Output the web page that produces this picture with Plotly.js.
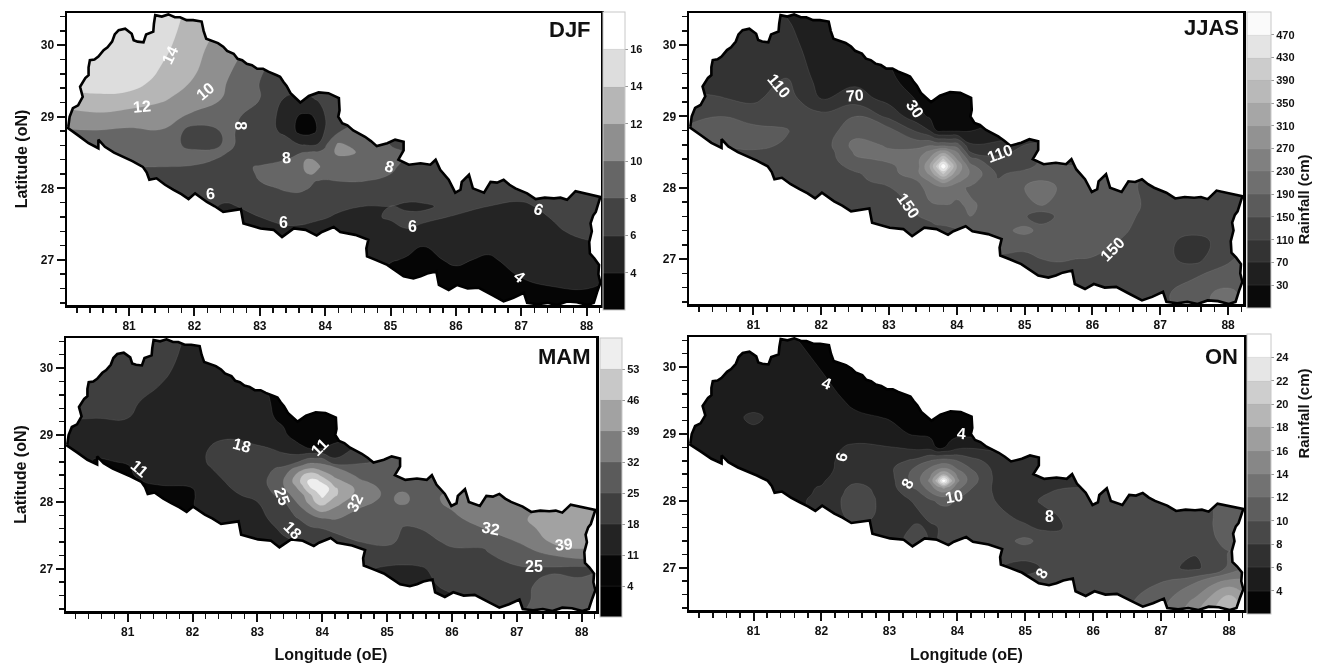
<!DOCTYPE html>
<html><head><meta charset="utf-8">
<script src="https://cdn.plot.ly/plotly-3.0.1.min.js"></script>
<style>html,body{margin:0;padding:0;background:#fff}#plot{width:1337px;height:663px;filter:blur(0.5px)}</style>
</head><body><div id="plot"></div>
<script>
const lons=[80,80.5,81,81.5,82,82.5,83,83.4,83.6,83.7,83.8,83.9,84,84.2,84.6,85,85.25,85.5,86,86.5,87,87.5,88,88.25];
const lats=[26.25,26.5,26.75,27,27.25,27.4,27.6,27.75,28,28.1,28.2,28.3,28.4,28.5,28.6,28.8,29,29.25,29.5,30,30.5];

const djf=[
[8,8,7,6,5,5,5,5,5,5,5,5,5,5,4.5,3,3,3,3,3,3,3,3,3],
[8,8,7,6,5,5,5,5,5,5,5,5,5,5,4.5,3.2,3,3,3,3,3.4,3.7,3.7,3.5],
[8,8,7,6,5,5,5,5,5,5,5,5,5,5,4.5,3.5,3.2,3,3.6,3.2,4,4.3,4.5,4.2],
[8,8,7,6.5,6,5,5,5,5,5,5,5,5,5,4.7,4.1,3.9,3.7,4.2,3.8,4.5,4.8,5,5],
[8,8,7,6.5,6,5.5,5.5,5.5,5.5,5.4,5.2,5.1,5,5,4.8,4.7,4.4,4.1,4.7,4.5,5,5.5,5.9,6],
[8,8,7.5,7,6.5,5.5,5.5,5.7,5.7,5.6,5.5,5.4,5.3,5.2,5.2,5.7,5.9,5.6,5,4.9,5.2,5.8,6.4,6.5],
[8,8,7.5,7,6.5,5.6,6,6.4,6.4,6.4,6.3,6.2,6.1,5.8,5.8,6.1,6.4,6.3,5.9,5.5,5.5,6.1,6.9,7],
[8,8,7.5,7,6.5,5.8,6.5,7,7,7,6.9,6.8,6.6,6.3,6,6,5.7,5.8,6.4,6,5.7,6.5,7,7],
[8,8,7.8,7.5,7,6.9,7.6,8.2,8.3,8.1,7.9,7.8,7.7,7.7,7.4,7.2,7.1,7,6.9,6.9,6.9,7,7.2,7.2],
[8,8,7.8,7.6,7.2,7.1,8,8.4,8.5,8.3,8.1,7.9,7.9,8,8,7.5,7.3,7.2,7,7,7,7,7,7],
[8,8,7.9,7.8,7.6,7.4,8.1,8.5,8.7,9.9,10.1,9.2,8.4,8.4,8.4,8,7.6,7.3,7,7,7,7,7,7],
[8,8,8,8,7.9,7.6,8.1,8.5,9.3,10.3,10.6,10.3,8.9,8.8,8.9,8.2,7.7,7.3,7,7,7,7,7,7],
[8,8.3,8.2,8.4,8.3,7.8,7.6,8,8.5,10,10.1,9.5,9,9.2,9.3,8.5,7.8,7.3,7,7,7,7,7,7],
[8.5,8.7,8.8,9.3,8.6,8,7.4,7.6,7.9,8.1,8.3,8.3,8.4,10.6,9.7,8.7,7.8,7.2,7,7,7,7,7,7],
[9,9.5,9.6,9.3,7.2,8.2,7.3,6.9,6.2,6.1,6,6.3,7.8,10.4,9.2,8,7.5,7.2,7,7,7,7,7,7],
[9.8,9.9,9.7,9.9,7,8.3,7.1,5.5,3.5,3.2,3.5,4.3,6.2,7.9,8.5,7.8,7.5,7.5,7,7,7,7,7,7],
[11,11.5,11,10.7,9.6,8.7,7,5.4,3.8,3.6,3.8,5,6,7.2,7.5,7.5,7.5,7.5,7,7,7,7,7,7],
[13,13.6,13.3,12.3,10.9,9.8,8,5.8,5.7,5.8,5.9,6.2,6.6,7,7,7,7,7,7,7,7,7,7,7],
[15,15,15,13.4,11.9,10,8,7,7,7,7,7,7,7,7,7,7,7,7,7,7,7,7,7],
[15.5,15.5,15.5,14.7,12.5,11.2,9,8,8,8,8,8,8,8,8,8,8,8,8,8,8,8,8,8],
[15.5,15.5,15.5,15,13.5,12,10,9,9,9,9,9,9,9,9,9,9,9,9,9,9,9,9,9]];

const jjas=[
[130,130,130,130,130,130,130,130,130,130,130,130,130,130,135,140,140,140,130,130,130,170,205,180],
[130,130,130,130,130,130,130,130,130,130,130,130,130,130,135,140,140,140,130,130,140,175,205,180],
[130,130,130,130,130,130,130,130,130,130,130,130,130,130,135,140,140,140,135,130,125,148,165,170],
[130,130,130,130,130,130,130,130,130,130,130,130,130,130,145,140,150,152,148,130,122,97,145,160],
[130,130,130,130,130,130,130,130,130,130,130,130,135,140,160,165,170,170,165,145,122,97,125,130],
[125,125,125,125,125,125,125,130,135,140,142,145,148,155,170,205,175,170,170,152,125,120,125,125],
[125,125,125,125,125,125,135,148,158,165,165,165,168,190,172,155,120,160,175,158,130,125,125,125],
[125,125,125,125,125,135,135,155,185,188,188,188,185,195,175,170,190,175,178,165,130,125,125,125],
[125,125,125,130,125,130,148,175,205,215,220,215,200,185,168,190,205,188,175,155,140,130,130,130],
[125,125,125,130,125,140,165,188,235,265,295,270,245,205,152,170,190,170,170,155,140,130,130,130],
[125,125,130,135,125,145,175,215,280,340,400,340,280,225,145,160,168,160,165,150,140,130,130,130],
[130,130,135,135,120,165,185,205,310,400,510,400,310,205,125,140,158,155,150,140,130,130,130,130],
[130,135,140,145,120,185,195,215,275,335,400,335,270,165,115,125,150,135,135,130,130,130,130,130],
[135,135,145,130,120,195,195,205,240,270,295,265,230,110,105,115,125,130,130,130,130,130,130,130],
[160,155,160,145,125,205,185,175,185,175,175,170,170,75,80,110,120,130,130,130,130,130,130,130],
[155,190,165,152,130,170,165,105,70,30,25,25,25,29,40,60,80,100,100,100,100,100,100,100],
[140,150,130,125,125,150,100,45,25,20,20,20,20,20,25,30,30,30,30,30,30,30,30,30],
[120,112,103,130,65,90,55,28,18,18,18,18,18,18,18,18,18,18,18,18,18,18,18,18],
[95,95,100,113,55,60,35,20,18,18,18,18,18,18,18,18,18,18,18,18,18,18,18,18],
[85,85,85,85,45,40,25,18,18,18,18,18,18,18,18,18,18,18,18,18,18,18,18,18],
[85,85,80,65,45,35,20,18,18,18,18,18,18,18,18,18,18,18,18,18,18,18,18,18]];

const mam=[
[15,15,15,15,15,15,15,15,15,15,15,15,15,15,15,14,14,14,14,22,25,28,28,28],
[15,15,15,15,15,15,15,15,15,15,15,15,15,15,16,15,15,15,16,22,23,28,29,29],
[15,15,15,15,15,15,15,15,15,15,15,15,15,15,16,15,15,15.5,20,23,23,27,27,28],
[15,15,15,15,15,15,15,15,15,15,15,15,15,15,19,17,16.5,17,22,24,24,24,23,25],
[15,15,15,15,15,15,15,15,16,16,17,17,18,19,24,23,23,23.5,24.5,24.5,29,33.5,38,36],
[15,15,15,15,15,15,15,17,18,19,20,21,22,23,25,26,24,24,25.5,26,32,39,41,40],
[15,15,15,15,15,13,15,19,22,23,24,24.5,25,26,28,29,24.5,25,28,32,36,41,42,42],
[15,15,15,15,10.5,14,16,21,24.5,26,28,30,31.5,32.5,30,29,27,26.5,31,34,38,41,42,42],
[15,15,15,10,10.7,16,18,24,32,36,41,47,50,42,33,31,33,30,33,36,38,38,38,38],
[15,15,15,10,10.5,17,19,28,35,38,44,50,55,47,35,31,33,30,33,33,33,33,33,33],
[15,15,10.5,10.5,10.9,17.5,20,31,38,44,52,55,60,47,36,30,31,29,30,30,30,30,30,30],
[15,15,10.5,11.5,13,18,21,32,42,49,55,56,52,42,33,29,29,29,29,29,29,29,29,29],
[15,14,10.5,13,14,19,21,30,40,46,50,49,44,37,30,28,28,28,28,28,28,28,28,28],
[15,10,10.6,14,15,20,21,27,34,37,39,38.5,36,33,28,28,28,28,28,28,28,28,28,28],
[15,10.5,11.3,15,15,22,20,20,24,27,30,30,30,20,24,26,26,26,26,26,26,26,26,26],
[14,12.5,15,15,16,20,19,17,13,11.5,11,11,11,13,20,22,22,22,22,22,22,22,22,22],
[15,15,15,15,15,17,15,12,9,9,8,8,8,8,8,8,8,8,8,8,8,8,8,8],
[18.5,18,18,15,15,15,13,10,7,7,7,7,7,7,7,7,7,7,7,7,7,7,7,7],
[20,20,19.5,15.5,15,14,13,9,7,7,7,7,7,7,7,7,7,7,7,7,7,7,7,7],
[22,22,22,20.5,14,14,12,8,7,7,7,7,7,7,7,7,7,7,7,7,7,7,7,7],
[22,22,22,22,16.5,14,12,8,7,7,7,7,7,7,7,7,7,7,7,7,7,7,7,7]];

const on=[
[7,7,7,7,7,7,7,7,7,7,7,7,8,8,9,9,9,9,9,10,12,16,20,17],
[7,7,7,7,7,7,7,7,7,7,7,7,8,8,9,9,9,9,9,9.7,11.3,14.5,19.5,16.5],
[7,7,7,7,7,7,7,7,7,7,7,7,8,8,9,9,9,9,9,9,10.2,12.3,15.5,15],
[7,7,7,7,7,7,7,7,7,7,7,7,8,8,8.1,7.3,8.1,9,9,9,8.6,7.5,10.3,12],
[7,7,7,7,7,7,7,7,7,7,7,7,8,8.5,8.8,9,9,9,9,9,9,8.2,10,10],
[7,7,7,7,7,7,7.2,8.7,7.8,7.9,8.4,8.8,9,9,9,10.6,9.3,9.1,9,9,9,9,10.5,10.3],
[7,7,7,7,7,7.5,7.3,8.2,7.8,7.9,8.5,8.9,9,9,9,8.3,7.7,7.8,9,9,9,9.2,10.7,10.7],
[5.5,5.5,5.5,5.5,6.3,8.7,7.3,7.7,8.2,8.7,8.9,9,9,9,8.5,7.6,7.4,8,9,9,9,9.2,10.7,10.7],
[5.5,5.5,5.5,5.5,6.4,9.2,7.2,8.2,9.6,10.2,10.5,10.3,9.6,8.6,7.9,7.4,8.2,8.6,9,9,9,9.2,10.5,10.5],
[5.5,5.5,5.5,5.5,6.2,9,7.1,9,11.5,12.5,13,12.3,11,9.2,7.7,7.2,7.9,8.3,8.5,8.5,8.5,8.5,8.5,8.5],
[5.5,5.5,5.5,5.5,6.1,8.6,7.1,10.5,13,15,16.5,15,12.8,10.2,7.3,7,7.2,7.9,8,8,8,8,8,8],
[5.5,5.5,5.5,5.5,5.8,7.6,7.2,11,14.5,19,26,19,14.5,11,7.2,7,7,7,7,7,7,7,7,7],
[5.5,5.5,5.5,5.5,5.6,7,7.4,11,13.5,16,18,16,13.5,10.8,7.2,7,7,7,7,7,7,7,7,7],
[5.5,5.5,5.5,5.5,5.4,7,7.5,10.3,12,13,13.5,13,11.5,9.8,7.2,6.8,6.8,6.8,6.8,6.8,6.8,6.8,6.8,6.8],
[5,5,5,5.5,5.4,6.9,7.2,8.5,10,10.6,11,10.6,10,8.7,7,6.5,6.5,6.5,6.5,6.5,6.5,6.5,6.5,6.5],
[5,5,5,5,5.3,6.4,6.1,5.5,5.3,3.8,3.9,4.5,5.5,5.8,5.5,5,5,5,5,5,5,5,5,5],
[5.2,5.2,5.5,5.2,5,5,4.5,3.8,3.5,3.5,3.5,3.5,3.5,3.5,3.5,3.5,3.5,3.5,3.5,3.5,3.5,3.5,3.5,3.5],
[5,5,6.4,5,4.9,4.3,3.9,3.5,3.5,3.5,3.5,3.5,3.5,3.5,3.5,3.5,3.5,3.5,3.5,3.5,3.5,3.5,3.5,3.5],
[5,5,5,5,4.8,3.6,3.5,3,3,3,3,3,3,3,3,3,3,3,3,3,3,3,3,3],
[5,5,5,5,3.9,3,3,3,3,3,3,3,3,3,3,3,3,3,3,3,3,3,3,3],
[5,5,5,4.2,3,3,3,3,3,3,3,3,3,3,3,3,3,3,3,3,3,3,3,3]];

const borderLon=[80.07,80.09,80.14,80.22,80.29,80.25,80.33,80.38,80.38,80.40,80.47,80.53,80.61,80.67,80.74,80.78,80.84,80.94,81.04,81.07,81.13,81.22,81.26,81.37,81.38,81.40,81.50,81.60,81.70,81.78,81.88,81.98,82.11,82.14,82.18,82.29,82.36,82.44,82.50,82.60,82.66,82.73,82.80,82.88,82.96,83.05,83.13,83.26,83.31,83.36,83.41,83.47,83.53,83.62,83.75,83.90,84.05,84.21,84.22,84.20,84.26,84.34,84.43,84.52,84.61,84.70,84.79,84.95,85.07,85.20,85.20,85.12,85.28,85.46,85.61,85.69,85.76,85.89,85.94,85.99,86.07,86.09,86.20,86.26,86.43,86.53,86.63,86.73,86.82,86.91,87.09,87.22,87.36,87.50,87.60,87.70,87.83,88.01,88.11,88.21,88.14,88.10,88.06,88.08,88.04,88.05,88.12,88.19,88.18,88.21,88.16,88.11,88.01,87.85,87.70,87.55,87.40,87.25,87.09,87.04,86.88,86.73,86.55,86.35,86.18,86.02,85.89,85.74,85.70,85.56,85.46,85.35,85.20,85.05,84.95,84.77,84.64,84.63,84.66,84.46,84.23,84.13,83.95,83.87,83.70,83.52,83.34,83.21,83.01,82.75,82.71,82.44,82.31,82.19,82.01,81.91,81.80,81.68,81.55,81.42,81.31,81.27,81.21,81.05,80.91,80.77,80.63,80.53,80.53,80.38,80.22,80.07];
const borderLat=[28.86,29.00,29.12,29.16,29.28,29.42,29.54,29.58,29.69,29.79,29.80,29.84,29.93,29.97,30.05,30.15,30.21,30.23,30.16,30.07,30.05,30.04,30.15,30.19,30.30,30.42,30.40,30.43,30.39,30.39,30.35,30.35,30.33,30.20,30.09,30.05,30.03,29.98,29.92,29.88,29.81,29.79,29.74,29.72,29.67,29.67,29.63,29.58,29.56,29.49,29.43,29.33,29.28,29.20,29.29,29.34,29.33,29.26,29.09,29.00,28.91,28.88,28.81,28.77,28.72,28.66,28.59,28.63,28.68,28.65,28.53,28.40,28.33,28.35,28.33,28.40,28.26,28.12,28.02,27.94,27.98,28.09,28.19,28.00,27.94,28.09,28.08,28.12,28.05,28.00,27.93,27.85,27.87,27.86,27.87,27.84,27.96,27.92,27.90,27.88,27.67,27.62,27.51,27.40,27.25,27.09,27.02,26.93,26.80,26.68,26.55,26.40,26.37,26.41,26.42,26.37,26.40,26.38,26.40,26.54,26.47,26.42,26.51,26.61,26.60,26.65,26.58,26.65,26.84,26.81,26.77,26.74,26.77,26.86,26.93,27.00,27.05,27.16,27.28,27.35,27.39,27.46,27.39,27.34,27.42,27.44,27.32,27.42,27.44,27.51,27.71,27.67,27.75,27.81,27.93,27.85,27.92,27.98,28.05,28.14,28.12,28.22,28.30,28.38,28.44,28.50,28.58,28.68,28.56,28.63,28.74,28.84];

const xTickVals=[81,82,83,84,85,86,87,88];
const yTickVals=[27,28,29,30];
const djfLevels=[4,6,8,10,12,14,16];
const jjasLevels=[30,70,110,150,190,230,270,310,350,390,430,470];
const mamLevels=[4,11,18,25,32,39,46,53];
const onLevels=[4,6,8,10,12,14,16,18,20,22,24];
const djfShades=['#050505','#242424','#434343','#666666','#8f8f8f','#b6b6b6','#dddddd','#ffffff'];
const jjasShades=['#0a0a0a','#1f1f1f','#333333','#464646','#5b5b5b','#6f6f6f','#808080','#929292','#a6a6a6','#b9b9b9','#cccccc','#e4e4e4','#fafafa'];
const mamShades=['#000000','#060606','#232323','#3f3f3f','#5b5b5b','#7d7d7d','#a2a2a2','#c8c8c8','#eeeeee'];
const onShades=['#050505','#1c1c1c','#303030','#484848','#5e5e5e','#727272','#878787','#9e9e9e','#b6b6b6','#cecece','#e6e6e6','#ffffff'];

const djfLabels=[['14',81.62,29.86,-65],['12',81.2,29.15,-5],['10',82.16,29.36,-40],['8',82.7,28.88,90],['8',83.41,28.43,-5],['8',84.98,28.3,15],['6',82.25,27.93,-5],['6',83.36,27.52,0],['6',85.34,27.46,0],['6',87.27,27.7,20],['4',86.97,26.77,40]];
const jjasLabels=[['110',81.37,29.43,50],['70',82.5,29.29,-5],['30',83.39,29.1,55],['110',84.63,28.48,-20],['150',83.28,27.75,55],['150',86.29,27.14,-45]];
const mamLabels=[['18',82.77,28.85,15],['11',83.95,28.82,-45],['11',81.18,28.5,40],['25',83.38,28.08,70],['32',84.51,27.99,-65],['18',83.55,27.58,45],['32',86.6,27.61,10],['39',87.73,27.36,-5],['25',87.27,27.03,0]];
const onLabels=[['4',82.08,29.75,20],['4',84.06,29.01,5],['6',82.3,28.66,-75],['8',83.27,28.26,-60],['10',83.95,28.07,-10],['8',85.36,27.76,0],['8',85.24,26.92,-60]];

const W=1337,H=663;
const panels=[
 {name:'DJF',z:djf,lv:djfLevels,sh:djfShades,lab:djfLabels,box:[67,601,13,305],bar:[603,22,12,298],rt:[593,30],suffix:''},
 {name:'JJAS',z:jjas,lv:jjasLevels,sh:jjasShades,lab:jjasLabels,box:[689,1243,13,304],bar:[1247,24,12,296],rt:[1241,28],suffix:'2'},
 {name:'MAM',z:mam,lv:mamLevels,sh:mamShades,lab:mamLabels,box:[66,596,338,611],bar:[600,22,338,279],rt:[593,356],suffix:'3'},
 {name:'ON',z:on,lv:onLevels,sh:onShades,lab:onLabels,box:[689,1244,337,610],bar:[1247,24,334,280],rt:[1240,356],suffix:'4'}
];
const font='"Liberation Sans",Arial,sans-serif';
const traces=[],annotations=[],layout={width:W,height:H,margin:{l:0,r:0,t:0,b:0},paper_bgcolor:'#fff',plot_bgcolor:'#fff',showlegend:false,font:{family:font,color:'#1a1a1a'}};
const xr=[80.05,88.22],yr=[26.37,30.45];
// outer rectangle wound opposite to the border, so the border is a hole in the white mask
const rectX=[78,90,90,78,78],rectY=[25,25,32,32,25];
panels.forEach((p,i)=>{
 const xa='x'+p.suffix,ya='y'+p.suffix,step=p.lv[1]-p.lv[0];
 traces.push({type:'contour',x:lons,y:lats,z:p.z,xaxis:xa,yaxis:ya,hoverinfo:'skip',
  autocontour:false,contours:{start:p.lv[0],end:p.lv[p.lv.length-1],size:step,coloring:'fill',showlines:true},
  line:{smoothing:1.3,width:0.4,color:'rgba(170,170,170,0.35)'},
  colorscale:p.sh.map((c,k)=>[k/(p.sh.length-1),c]),zauto:false,zmin:p.lv[0]-step,zmax:p.lv[p.lv.length-1]+step,
  colorbar:{x:p.bar[0]/W,xanchor:'left',xpad:0,thickness:p.bar[1],thicknessmode:'pixels',len:p.bar[3],lenmode:'pixels',y:1-p.bar[2]/H,yanchor:'top',ypad:0,
   outlinecolor:'#c8c8c8',outlinewidth:1,tickmode:'array',tickvals:p.lv,ticktext:p.lv.map(String),ticks:'outside',ticklen:3,tickcolor:'#999',tickwidth:1,
   tickfont:{family:font,size:11,color:'#111',weight:'bold'}}});
 traces.push({type:'scatter',mode:'lines',x:rectX.concat(borderLon,[borderLon[0]],[78]),y:rectY.concat(borderLat,[borderLat[0]],[25]),xaxis:xa,yaxis:ya,fill:'toself',fillcolor:'#fff',line:{width:0,color:'#fff'},hoverinfo:'skip'});
 traces.push({type:'scatter',mode:'lines',x:borderLon.concat([borderLon[0]]),y:borderLat.concat([borderLat[0]]),xaxis:xa,yaxis:ya,line:{color:'#000',width:2.6},hoverinfo:'skip'});
 const k=p.suffix;
 const common={showgrid:false,zeroline:false,showline:true,linecolor:'#000',linewidth:2.5,mirror:true,ticks:'outside',tickcolor:'#111',tickwidth:2,ticklen:8,
   tickfont:{family:font,size:12,color:'#111',weight:'bold'}};
 layout['xaxis'+k]=Object.assign({},common,{domain:[p.box[0]/W,p.box[1]/W],anchor:ya,range:xr,tickmode:'array',tickvals:xTickVals,
   minor:{tickmode:'linear',tick0:80,dtick:0.2,ticks:'outside',ticklen:5,tickwidth:1.5,tickcolor:'#111'},
   title:i>=2?{text:'Longitude (oE)',font:{family:font,size:16,color:'#111',weight:'bold'},standoff:12}:undefined});
 layout['yaxis'+k]=Object.assign({},common,{domain:[1-p.box[3]/H,1-p.box[2]/H],anchor:xa,range:yr,tickmode:'array',tickvals:yTickVals,
   minor:{tickmode:'linear',tick0:26,dtick:0.2,ticks:'outside',ticklen:5,tickwidth:1.5,tickcolor:'#111'},
   title:i%2==0?{text:'Latitude (oN)',font:{family:font,size:16,color:'#111',weight:'bold'},standoff:9}:undefined});
 p.lab.forEach(a=>annotations.push({xref:xa,yref:ya,x:a[1],y:a[2],text:a[0],textangle:a[3],showarrow:false,font:{family:font,size:16,color:'#fff',weight:'bold'}}));
 annotations.push({xref:'paper',yref:'paper',x:p.rt[0]/W,y:1-p.rt[1]/H,xanchor:'right',yanchor:'middle',text:p.name,showarrow:false,font:{family:font,size:22,color:'#111',weight:'bold'}});
});
annotations.push({xref:'paper',yref:'paper',x:1313/W,y:1-153/H,text:'Rainfall (cm)',textangle:-90,showarrow:false,font:{family:font,size:15,color:'#111',weight:'bold'}});
annotations.push({xref:'paper',yref:'paper',x:1313/W,y:1-461/H,text:'Rainfall (cm)',textangle:-90,showarrow:false,font:{family:font,size:15,color:'#111',weight:'bold'}});
layout.annotations=annotations;
Plotly.newPlot('plot',traces,layout,{displayModeBar:false,staticPlot:true});
</script></body></html>
